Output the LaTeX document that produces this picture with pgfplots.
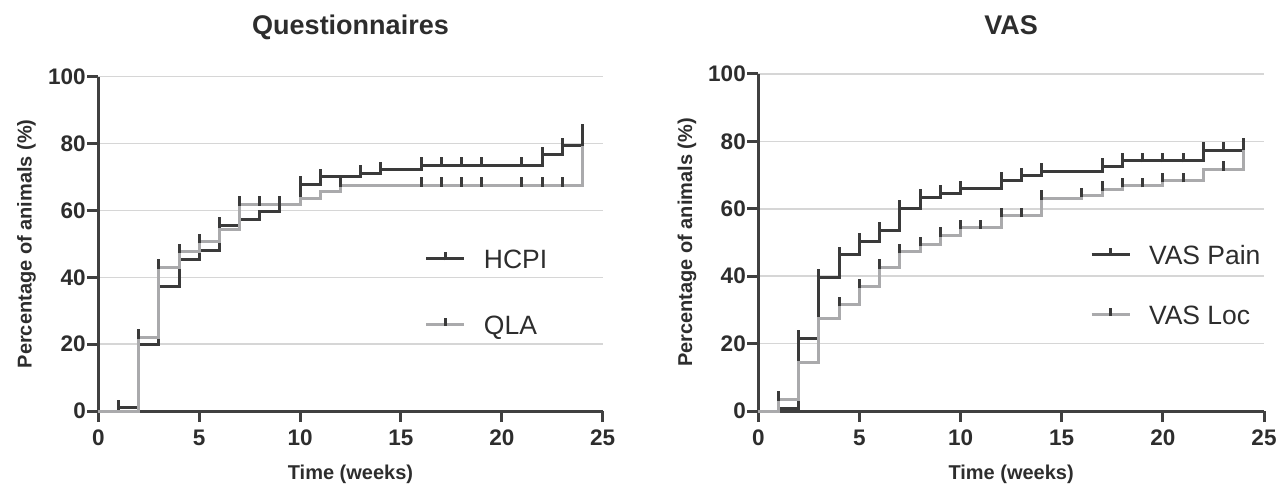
\documentclass[border=0pt]{standalone}
\usepackage{fontspec}
\setmainfont{Liberation Sans}
\usepackage{pgfplots}
\pgfplotsset{compat=1.18}
\definecolor{darkc}{RGB}{58,58,58}
\definecolor{grayc}{RGB}{170,170,172}
\definecolor{gridc}{RGB}{214,214,214}
\definecolor{axc}{RGB}{64,64,64}
\definecolor{txtc}{RGB}{45,45,45}
\pgfdeclareplotmark{cens}{\pgfpathmoveto{\pgfpoint{0pt}{-1.5pt}}\pgfpathlineto{\pgfpoint{0pt}{8pt}}\pgfusepathqstroke}
\pgfplotsset{
  km/.style={
    scale only axis, xmin=0, xmax=25, ymin=0, ymax=100,
    axis x line*=bottom, axis y line*=left,
    axis line style={axc, line width=3pt, -},
    xtick={0,5,...,25}, ytick={0,20,...,100},
    tick align=outside, major tick length=11pt,
    tick style={axc, line width=3pt},
    ymajorgrids, grid style={gridc, line width=1.5pt},
    /pgf/number format/assume math mode=true,
    ticklabel style={font=\bfseries\fontsize{22.5}{26}\selectfont, text=txtc},
    xticklabel style={yshift=-4pt},
    yticklabel style={xshift=2pt},
    every axis x label/.style={at={(axis description cs:0.5,0)}, anchor=base, yshift=-68pt, font=\bfseries\fontsize{20}{24}\selectfont, text=txtc},
    every axis title/.style={at={(axis description cs:0.5,1)}, anchor=base, font=\bfseries\fontsize{27}{32}\selectfont, text=txtc},
    clip=false,
    legend cell align=left,
    legend style={draw=none, fill=none, inner sep=0pt, outer sep=0pt,
      font=\fontsize{26.5}{30}\selectfont, text=txtc,
      nodes={inner sep=0pt, text height=19.5pt, text depth=0pt},
      column sep=18pt},
    legend image code/.code={\draw[#1, line width=3pt] (0pt,0pt) -- (38pt,0pt);
      \draw[darkc, line width=3pt] (19pt,-1.5pt) -- (19pt,7pt);},
  },
  curve/.style={const plot, line width=3pt, forget plot},
  censor/.style={only marks, mark=cens, mark options={darkc, line width=3pt}, forget plot},
}
\begin{document}
\begin{tikzpicture}
\path[use as bounding box] (0,0) rectangle (1283pt,483pt);
% ---------------- Questionnaires ----------------
\begin{axis}[km, at={(98.3pt,72pt)}, anchor=south west,
  width=504.4pt, height=334.3pt,
  title={Questionnaires}, title style={yshift=42pt},
  xlabel={Time (weeks)},
  ylabel={Percentage of animals (\%)},
  every axis y label/.style={at={(axis description cs:-0.132,0.5)}, rotate=90, anchor=base, font=\bfseries\fontsize{20}{24}\selectfont, text=txtc},
  legend style={at={(axis cs:16.19,48.4)}, anchor=north west, row sep=46.2pt},
]
\addlegendimage{darkc}
\addlegendentry{HCPI}
\addlegendimage{grayc}
\addlegendentry{QLA}
\addplot[curve, darkc] coordinates {
 (0,0) (1,1.0) (2,20.0) (3,37.2) (4,45.4) (5,48.0) (6,55.6) (7,57.2) (8,59.8)
 (9,61.8) (10,67.8) (11,70.1) (13,71.1) (14,72.2) (16,73.5) (22,76.7) (23,79.4) (24,83.5)};
\addplot[curve, grayc] coordinates {
 (0,0) (2,22.0) (3,43.0) (4,47.7) (5,50.6) (6,54.3) (7,61.9) (10,63.6) (11,65.6)
 (12,67.5) (24,79.4)};
\addplot[censor] coordinates {
 (1,1.0) (2,22.0) (3,43.0) (4,47.7) (5,50.6) (6,55.6) (7,61.9) (8,61.9) (9,61.9)
 (10,67.8) (11,70.1) (12,67.5) (13,71.1) (14,72.2) (16,73.5) (16,67.5) (17,73.5)
 (17,67.5) (18,73.5) (18,67.5) (19,73.5) (19,67.5) (21,73.5) (21,67.5) (22,76.7)
 (22,67.5) (23,79.4) (23,67.5) (24,83.5)};
\end{axis}
% ---------------- VAS ----------------
\begin{axis}[km, at={(758.3pt,72pt)}, anchor=south west,
  width=505.7pt, height=337pt,
  title={VAS}, title style={yshift=39pt},
  xlabel={Time (weeks)},
  ylabel={Percentage of animals (\%)},
  every axis y label/.style={at={(axis description cs:-0.131,0.5)}, rotate=90, anchor=base, font=\bfseries\fontsize{20}{24}\selectfont, text=txtc},
  legend style={at={(axis cs:16.4,49.3)}, anchor=north west, row sep=40.5pt},
]
\addlegendimage{darkc}
\addlegendentry{VAS Pain}
\addlegendimage{grayc}
\addlegendentry{VAS Loc}
\addplot[curve, darkc] coordinates {
 (0,0) (1,0.8) (2,21.6) (3,39.7) (4,46.3) (5,50.4) (6,53.7) (7,60.1) (8,63.5)
 (9,64.6) (10,66.0) (12,68.4) (13,69.8) (14,71.2) (17,72.7) (18,74.2) (22,77.4) (24,78.5)};
\addplot[curve, grayc] coordinates {
 (0,0) (1,3.5) (2,14.3) (3,27.5) (4,31.5) (5,36.9) (6,42.7) (7,47.2) (8,49.3)
 (9,52.2) (10,54.4) (12,57.9) (14,63.1) (16,63.8) (17,65.8) (18,66.8) (20,68.3)
 (22,71.7) (24,77.4)};
\addplot[censor] coordinates {
 (2,21.6) (3,39.7) (4,46.3) (5,50.4) (6,53.7) (7,60.1) (8,63.5) (9,64.6) (10,66.0)
 (12,68.4) (13,69.8) (14,71.2) (17,72.7) (18,74.2) (19,74.2) (20,74.2) (21,74.2)
 (22,77.4) (23,77.4) (24,78.5)
 (1,3.5) (4,31.5) (5,36.9) (6,42.7) (7,47.2) (8,49.3) (9,52.2) (10,54.4) (11,54.4)
 (12,57.9) (13,57.9) (14,63.1) (16,63.8) (17,65.8) (18,66.8) (19,66.8) (20,68.3)
 (21,68.3) (23,71.7)};
\end{axis}
\end{tikzpicture}
\end{document}
